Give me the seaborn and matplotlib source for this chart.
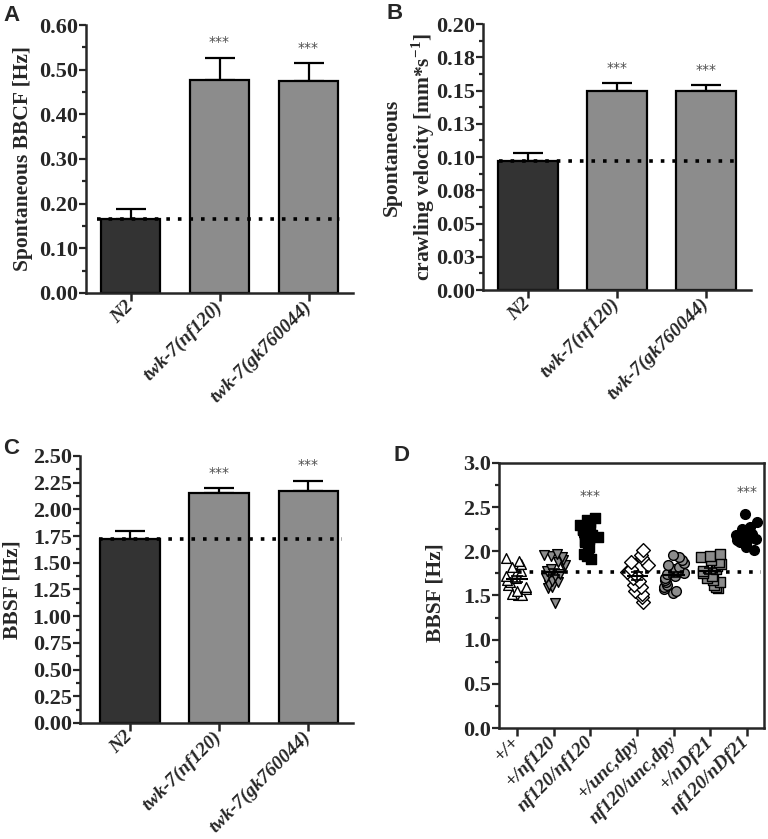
import numpy as np
import pandas as pd
import matplotlib
matplotlib.use('Agg')
import matplotlib.pyplot as plt
import seaborn as sns
from matplotlib.ticker import MultipleLocator, FixedLocator, FixedFormatter

# A/B/C 柱状图数据
strains = ['N2', 'twk-7(nf120)', 'twk-7(gk760044)']
bbcf_mean = [0.165, 0.477, 0.475]
bbcf_sem = [0.023, 0.050, 0.039]
vel_mean = [0.097, 0.150, 0.150]
vel_sem = [0.0058, 0.0055, 0.004]
bbsf_mean = [1.72, 2.15, 2.17]
bbsf_sem = [0.08, 0.05, 0.10]
bar_signif = ['', '***', '***']
vel_ticks = [0.0, 0.025, 0.05, 0.075, 0.10, 0.125, 0.15, 0.175, 0.20]
vel_ticklabels = ['0.00', '0.03', '0.05', '0.08', '0.10', '0.13', '0.15', '0.18', '0.20']

# D 散点数据
genotypes = ['+/+', '+/nf120', 'nf120/nf120', '+/unc,dpy', 'nf120/unc,dpy', '+/nDf21', 'nf120/nDf21']
d_wt = [1.50, 1.50, 1.52, 1.55, 1.57, 1.60, 1.62, 1.65, 1.68, 1.70, 1.72, 1.75, 1.78, 1.82, 1.86, 1.89, 1.92]
d_het = [1.42, 1.58, 1.60, 1.62, 1.65, 1.66, 1.70, 1.72, 1.74, 1.76, 1.78, 1.80, 1.83, 1.85, 1.88, 1.90,
         1.93, 1.95, 1.96, 1.97]
d_hom = [1.91, 1.95, 1.97, 2.00, 2.05, 2.10, 2.12, 2.14, 2.16, 2.18, 2.20, 2.21, 2.22, 2.24, 2.25, 2.27,
         2.30, 2.33, 2.36, 2.38]
d_uncdpy = [1.43, 1.48, 1.52, 1.55, 1.60, 1.62, 1.66, 1.70, 1.73, 1.77, 1.80, 1.85, 1.88, 1.92, 1.96, 2.02]
d_nf_uncdpy = [1.53, 1.55, 1.57, 1.60, 1.62, 1.65, 1.67, 1.70, 1.72, 1.74, 1.76, 1.78, 1.80, 1.82, 1.84,
               1.87, 1.90, 1.93, 1.96]
d_ndf = [1.58, 1.60, 1.62, 1.65, 1.68, 1.70, 1.72, 1.75, 1.78, 1.80, 1.83, 1.86, 1.88, 1.90, 1.93, 1.95, 1.97]
d_nf_ndf = [2.02, 2.05, 2.08, 2.10, 2.12, 2.13, 2.14, 2.15, 2.16, 2.17, 2.18, 2.19, 2.20, 2.21, 2.23, 2.25,
            2.28, 2.33, 2.42]
d_signif = ['', '', '***', '', '', '', '***']
d_ref = 1.77  # 参考虚线

d_groups = [d_wt, d_het, d_hom, d_uncdpy, d_nf_uncdpy, d_ndf, d_nf_ndf]
# 样式
dark = '#333333'
grey = '#8c8c8c'
bar_colors = [dark, grey, grey]
d_markers = ['^', 'v', 's', 'D', 'o', 's', 'o']
d_faces = ['white', grey, 'black', 'white', grey, grey, 'black']

sns.set_style('ticks')
plt.rcParams['font.family'] = ['Liberation Serif', 'DejaVu Serif']
plt.rcParams['font.weight'] = 'bold'
plt.rcParams['axes.labelweight'] = 'bold'
plt.rcParams['axes.linewidth'] = 1.8
plt.rcParams['mathtext.fontset'] = 'custom'
plt.rcParams['mathtext.bf'] = 'Liberation Serif:bold'
plt.rcParams['mathtext.rm'] = 'Liberation Serif:bold'
np.random.seed(3)

fig = plt.figure(figsize=(7.68, 8.39), dpi=100)


def style_axis(ax, ylabel, label_xy):
    ax.set_ylabel(ylabel, fontsize=15.5, fontweight='bold')
    ax.yaxis.set_label_coords(*label_xy)
    ax.tick_params(axis='y', which='major', length=5, width=1.6, labelsize=16, pad=1)
    ax.tick_params(axis='y', which='minor', length=3, width=1.6)
    ax.tick_params(axis='x', which='major', length=6, width=1.8, pad=2)
    for t in ax.get_yticklabels():
        t.set_fontweight('bold')


def bar_panel(ax, means, sems, dot_span):
    sns.barplot(x=strains, y=means, hue=strains, palette=bar_colors, legend=False, width=0.67,
                edgecolor='black', linewidth=1.6, ax=ax, zorder=2)
    ax.errorbar(range(len(means)), means, yerr=[np.zeros(len(sems)), sems], fmt='none', ecolor='black',
                elinewidth=1.6, capsize=11, capthick=1.6, zorder=1)
    ax.axhline(means[0], xmin=dot_span[0], xmax=dot_span[1], color='black', lw=2.6,
               ls=(0, (1, 2.2)), dash_capstyle='butt', zorder=4)
    for i, s in enumerate(bar_signif):
        if s:
            ax.annotate(s, (i, means[i] + sems[i]), xytext=(0, 11), textcoords='offset points',
                        ha='center', va='center', fontsize=10, color='#4d4d4d', family='DejaVu Sans',
                        fontweight='normal')
    ax.set_xlabel('')
    ax.set_xticks(range(len(strains)))
    ax.set_xticklabels(strains, rotation=45, ha='right', va='center', rotation_mode='anchor',
                       fontsize=14, fontstyle='italic', fontweight='bold')
    sns.despine(ax=ax)


"""A"""
axA = fig.add_axes([0.112, 0.6508, 0.3477, 0.3194])
bar_panel(axA, bbcf_mean, bbcf_sem, (0.04, 0.95))
axA.set_xlim(-0.5, 2.5)
axA.set_ylim(0, 0.6)
axA.yaxis.set_major_locator(MultipleLocator(0.1))
axA.yaxis.set_minor_locator(MultipleLocator(0.05))
axA.yaxis.set_major_formatter('{x:.2f}')
style_axis(axA, 'Spontaneous BBCF [Hz]', (-0.2, 0.5))

"""B"""
axB = fig.add_axes([0.6289, 0.6543, 0.349, 0.317])
bar_panel(axB, vel_mean, vel_sem, (0.06, 0.955))
axB.set_xlim(-0.5, 2.5)
axB.set_ylim(0, 0.2)
axB.yaxis.set_major_locator(FixedLocator(vel_ticks))
axB.yaxis.set_major_formatter(FixedFormatter(vel_ticklabels))
axB.yaxis.set_minor_locator(MultipleLocator(0.0125))
style_axis(axB, 'Spontaneous\ncrawling velocity [mm*s$^{\\mathbf{-1}}$]', (-0.17, 0.5))
axB.yaxis.label.set_linespacing(1.4)

"""C"""
axC = fig.add_axes([0.1042, 0.1383, 0.3555, 0.3182])
bar_panel(axC, bbsf_mean, bbsf_sem, (0.07, 0.96))
axC.set_xlim(-0.56, 2.5)
axC.set_ylim(0, 2.5)
axC.yaxis.set_major_locator(MultipleLocator(0.25))
axC.yaxis.set_minor_locator(MultipleLocator(0.125))
axC.yaxis.set_major_formatter('{x:.2f}')
style_axis(axC, 'BBSF [Hz]', (-0.21, 0.5))

"""D"""
axD = fig.add_axes([0.6497, 0.1323, 0.345, 0.3159])
idx = np.arange(len(genotypes))
d_pos = idx + np.where(idx >= 3, 0.3, 0.0)
for p, vals, m, fc, s in zip(d_pos, d_groups, d_markers, d_faces, d_signif):
    vals = np.array(vals)
    sns.stripplot(x=np.full(len(vals), p), y=vals, native_scale=True, orient='x', marker=m, color=fc,
                  edgecolor='black', linewidth=1.0, size=7, jitter=0.32, ax=axD)
    mean = vals.mean()
    sem = vals.std(ddof=1) / np.sqrt(len(vals))
    axD.hlines(mean, p - 0.3, p + 0.3, color='black', lw=1.5, zorder=5)
    axD.errorbar(p, mean, yerr=sem, fmt='none', ecolor='black', elinewidth=1.2, capsize=4, capthick=1.2,
                 zorder=5)
    if s:
        axD.annotate(s, (p, vals.max()), xytext=(0, 16), textcoords='offset points', ha='center',
                     va='center', fontsize=10, color='#4d4d4d', family='DejaVu Sans', fontweight='normal')
axD.axhline(d_ref, xmin=0.07, xmax=0.99, color='black', lw=2.6, ls=(0, (1, 2.2)),
            dash_capstyle='butt', zorder=4)
axD.set_xlim(-0.5, 6.77)
axD.set_ylim(0, 3.0)
axD.yaxis.set_major_locator(MultipleLocator(0.5))
axD.yaxis.set_minor_locator(MultipleLocator(0.25))
axD.yaxis.set_major_formatter('{x:.1f}')
axD.set_xticks(d_pos)
axD.set_xticklabels(genotypes, rotation=45, ha='right', va='center', rotation_mode='anchor',
                    fontsize=14, fontstyle='italic', fontweight='bold')
axD.set_xlabel('')
style_axis(axD, 'BBSF [Hz]', (-0.2, 0.51))

# 面板字母
for x, y, lab in [(0.004, 0.994, 'A'), (0.503, 0.996, 'B'), (0.004, 0.478, 'C'), (0.513, 0.470, 'D')]:
    fig.text(x, y, lab, fontsize=16, fontweight='bold', family='Liberation Sans', va='top', ha='left')

plt.savefig('out.png', dpi=100)
